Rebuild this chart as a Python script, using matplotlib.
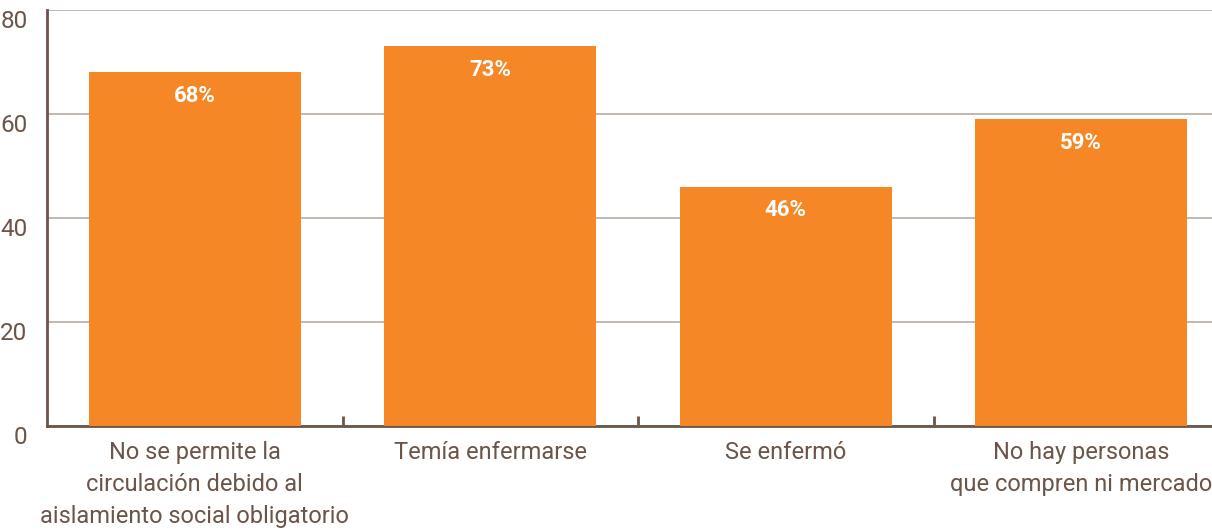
import matplotlib
matplotlib.use('Agg')
import matplotlib.pyplot as plt

categories = [
    "No se permite la\ncirculación debido al\naislamiento social obligatorio",
    "Temía enfermarse",
    "Se enfermó",
    "No hay personas\nque compren ni mercado",
]
values = [68, 73, 46, 59]
y_ticks = [0, 20, 40, 60, 80]

text_color = "#6b5448"
bar_color = "#f58727"
grid_color = "#b9aba3"

plt.rcParams['font.family'] = ['Roboto', 'DejaVu Sans']

fig = plt.figure(figsize=(12.12, 5.30), dpi=100)
# axes runs past the right edge like in the original
ax = fig.add_axes([47 / 1212, 1 - 426 / 530, (1229 - 47) / 1212, 416 / 530])

x = list(range(len(values)))
bars = ax.bar(x, values, width=0.717, color=bar_color, zorder=3)

for bar, v in zip(bars, values):
    ax.text(bar.get_x() + bar.get_width() / 2, v - 4.5, f"{v}%",
            ha="center", va="center", color="white", fontsize=16,
            fontweight="bold", zorder=4)

ax.set_xlim(-0.5, len(values) - 0.5)
ax.set_ylim(0, 80)
ax.set_yticks(y_ticks)
ax.yaxis.grid(True, color=grid_color, linewidth=1.2, zorder=0)
ax.set_axisbelow(True)

for side in ["top", "right"]:
    ax.spines[side].set_visible(False)
for side in ["left", "bottom"]:
    ax.spines[side].set_color(text_color)
    ax.spines[side].set_linewidth(2)

ax.set_xticks([0.5, 1.5, 2.5], minor=False)
ax.set_xticklabels([])
ax.tick_params(axis="x", which="major", direction="in", length=7, width=2,
               color=text_color)
ax.set_xticks(x, minor=True)
ax.set_xticklabels(categories, minor=True, fontsize=17, color=text_color,
                   linespacing=1.5)
ax.tick_params(axis="x", which="minor", length=0, pad=11)
ax.tick_params(axis="y", length=0, labelsize=17.5, labelcolor=text_color, pad=14)
for lbl in ax.get_yticklabels():
    lbl.set_verticalalignment("top")

fig.savefig("out.png", dpi=100)
